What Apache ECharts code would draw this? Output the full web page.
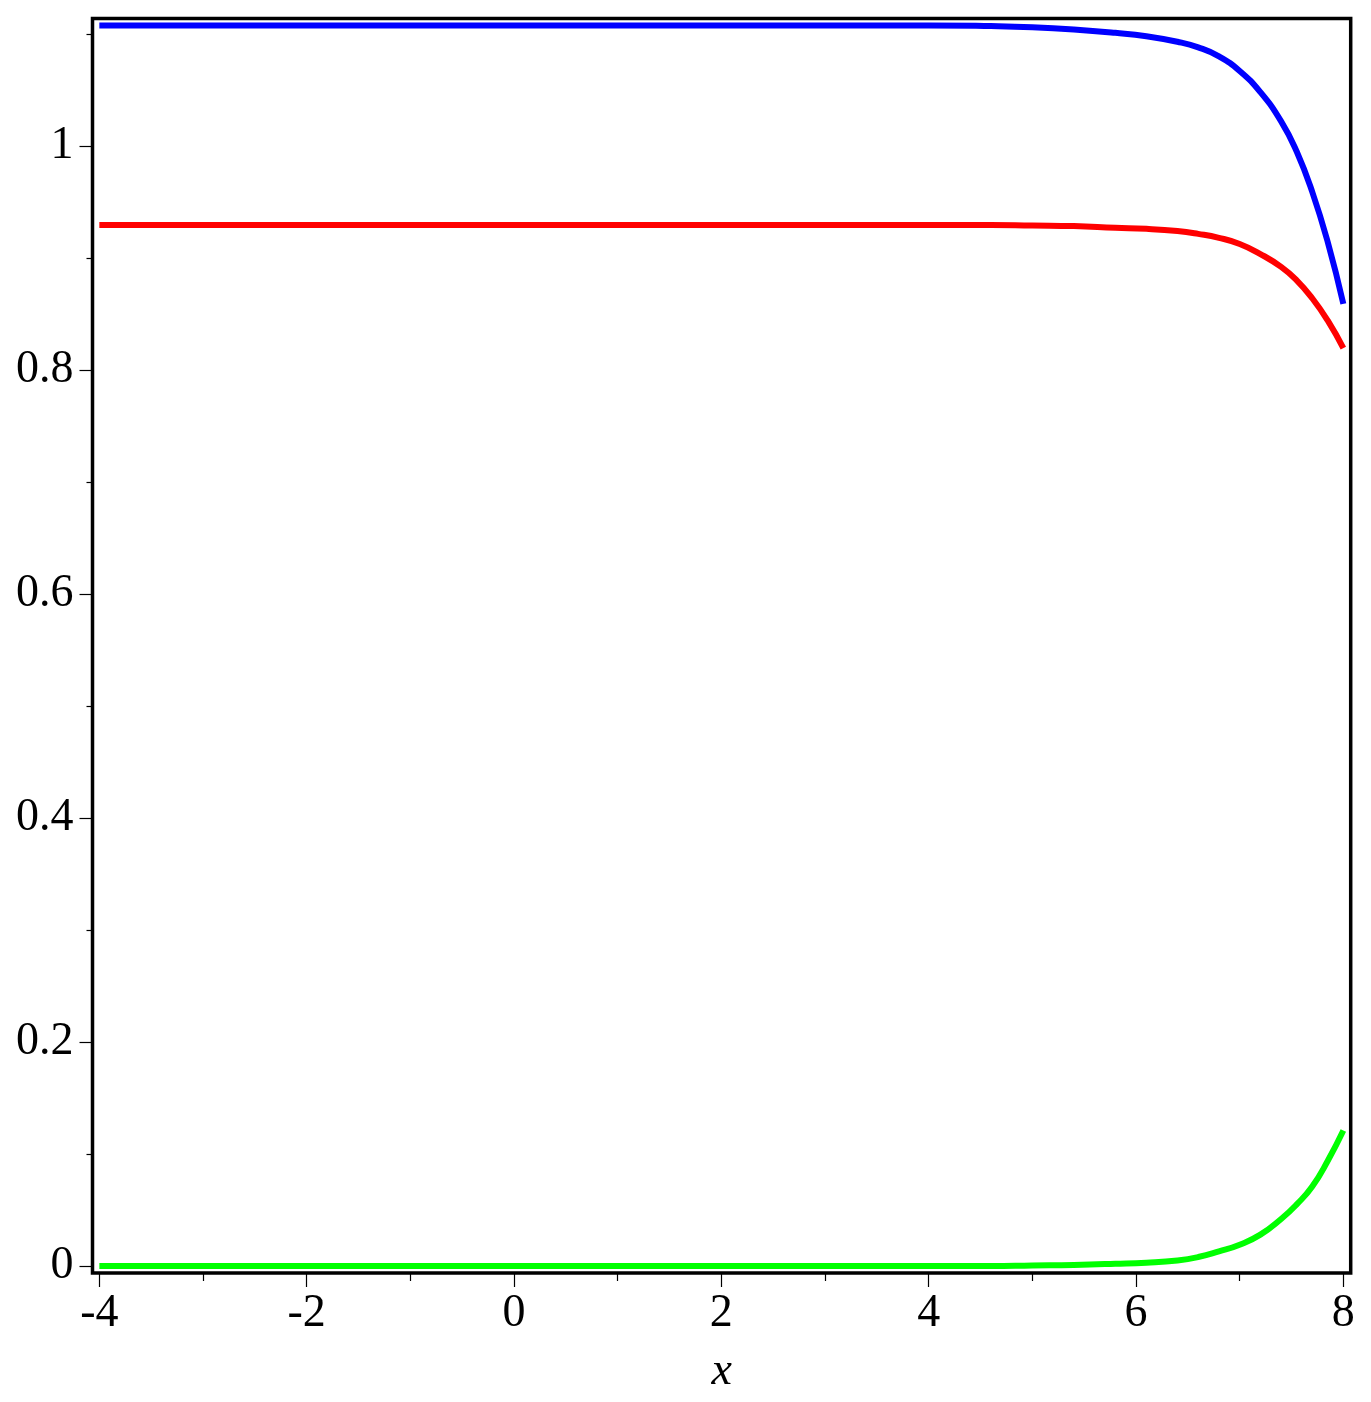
<!DOCTYPE html>
<html>
<head>
<meta charset="utf-8">
<script src="https://cdn.jsdelivr.net/npm/echarts@6/dist/echarts.min.js"></script>
<style>
html,body{margin:0;padding:0;background:#fff;}
#chart{width:1371px;height:1402px;}
</style>
</head>
<body>
<div id="chart"></div>
<script>
const xValues = [-4, -2, 0, 2, 4, 4.6, 5.0, 5.4, 5.8, 6.1, 6.4, 6.6, 6.8, 7.0, 7.2, 7.4, 7.55, 7.7, 7.85, 8.0];
const blueValues = [1.1076, 1.1076, 1.1076, 1.1076, 1.1076, 1.107, 1.106, 1.104, 1.101, 1.098, 1.093, 1.088, 1.080, 1.067, 1.048, 1.022, 0.995, 0.959, 0.914, 0.859];
const redValues = [0.9295, 0.9295, 0.9295, 0.9295, 0.9295, 0.9295, 0.929, 0.9285, 0.927, 0.926, 0.924, 0.9215, 0.918, 0.9125, 0.9035, 0.892, 0.880, 0.864, 0.844, 0.8195];
const greenValues = [0, 0, 0, 0, 0, 0, 0.0005, 0.001, 0.002, 0.003, 0.005, 0.008, 0.013, 0.019, 0.028, 0.042, 0.055, 0.071, 0.094, 0.121];
const xMajorTicks = [-4, -2, 0, 2, 4, 6, 8];
const xMinorTicks = [-3, -1, 1, 3, 5, 7];
const yMajorTicks = [0, 0.2, 0.4, 0.6, 0.8, 1];
const yMinorTicks = [0.1, 0.3, 0.5, 0.7, 0.9, 1.1];
const xRange = [-4.066, 8.071];
const yRange = [-0.00625, 1.1138];

const pair = (ys) => xValues.map((x, i) => [x, ys[i]]);
const font = 'Liberation Serif, Times New Roman, serif';
const gridPos = {left: 92.5, top: 18.5, right: 20.3, bottom: 129};

const chart = echarts.init(document.getElementById('chart'));
chart.setOption({
  animation: false,
  backgroundColor: '#fff',
  grid: [
    Object.assign({show: true, borderColor: '#000', borderWidth: 3.5, backgroundColor: 'transparent', containLabel: false}, gridPos),
    Object.assign({show: false, containLabel: false}, gridPos)
  ],
  xAxis: [
    {
      type: 'value', gridIndex: 0, min: xRange[0], max: xRange[1],
      position: 'bottom',
      axisLine: {show: false, onZero: false},
      splitLine: {show: false},
      axisTick: {show: true, inside: false, length: 14, customValues: xMajorTicks, lineStyle: {color: '#000', width: 1.2}},
      axisLabel: {show: true, customValues: xMajorTicks, margin: 18, color: '#000', fontFamily: font, fontSize: 46,
        formatter: (v) => String(v)},
      name: 'x', nameLocation: 'middle', nameGap: 76,
      nameTextStyle: {fontFamily: font, fontStyle: 'italic', fontSize: 46, color: '#000'}
    },
    {
      type: 'value', gridIndex: 1, min: xRange[0], max: xRange[1],
      position: 'bottom',
      axisLine: {show: false, onZero: false},
      splitLine: {show: false},
      axisTick: {show: true, inside: false, length: 8, customValues: xMinorTicks, lineStyle: {color: '#000', width: 1.2}},
      axisLabel: {show: false}
    }
  ],
  yAxis: [
    {
      type: 'value', gridIndex: 0, min: yRange[0], max: yRange[1],
      position: 'left',
      axisLine: {show: false, onZero: false},
      splitLine: {show: false},
      axisTick: {show: true, inside: false, length: 13, customValues: yMajorTicks, lineStyle: {color: '#000', width: 1.2}},
      axisLabel: {show: true, customValues: yMajorTicks, margin: 19, color: '#000', fontFamily: font, fontSize: 46,
        formatter: (v) => String(Math.round(v * 10) / 10)}
    },
    {
      type: 'value', gridIndex: 1, min: yRange[0], max: yRange[1],
      position: 'left',
      axisLine: {show: false, onZero: false},
      splitLine: {show: false},
      axisTick: {show: true, inside: false, length: 6, customValues: yMinorTicks, lineStyle: {color: '#000', width: 1.2}},
      axisLabel: {show: false}
    }
  ],
  series: [
    {type: 'line', xAxisIndex: 0, yAxisIndex: 0, data: pair(blueValues), showSymbol: false, smooth: 0.5,
      lineStyle: {color: '#0000ff', width: 6, cap: 'butt'}, clip: false},
    {type: 'line', xAxisIndex: 0, yAxisIndex: 0, data: pair(redValues), showSymbol: false, smooth: 0.5,
      lineStyle: {color: '#ff0000', width: 6, cap: 'butt'}, clip: false},
    {type: 'line', xAxisIndex: 0, yAxisIndex: 0, data: pair(greenValues), showSymbol: false, smooth: 0.5,
      lineStyle: {color: '#00ff00', width: 6, cap: 'butt'}, clip: false}
  ]
});
</script>
</body>
</html>
